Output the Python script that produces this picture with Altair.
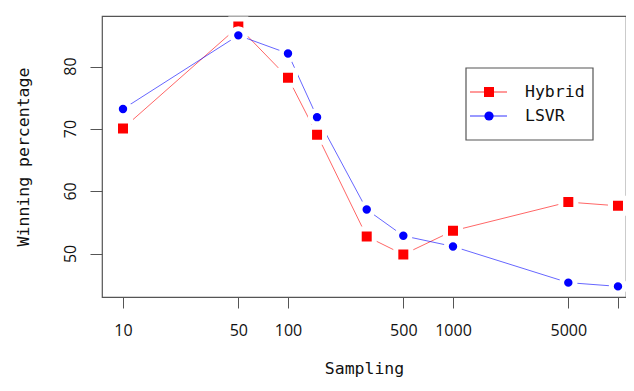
import altair as alt
import pandas as pd

sampling = [10, 50, 100, 150, 300, 500, 1000, 5000, 10000]
hybrid = [70.1, 86.4, 78.2, 69.1, 52.8, 49.9, 53.7, 58.3, 57.7]
lsvr = [73.2, 85.0, 82.1, 71.9, 57.1, 52.9, 51.2, 45.4, 44.8]
series_names = ["Hybrid", "LSVR"]
series_colors = ["#ff0000", "#0000ff"]
x_ticks = [10, 50, 100, 500, 1000, 5000, 10000]
y_ticks = [50, 60, 70, 80]

rows = []
for s, h, l in zip(sampling, hybrid, lsvr):
    rows.append({"Sampling": s, "value": h, "series": "Hybrid"})
    rows.append({"Sampling": s, "value": l, "series": "LSVR"})
df = pd.DataFrame(rows)
ytick_df = pd.DataFrame({"value": y_ticks, "label": [str(v) for v in y_ticks]})

MONO = "DejaVu Sans Mono"
SANS = "Open Sans"
FRAME = "#555"

x_scale = alt.Scale(type="log", domain=[7.46, 11183], nice=False, zero=False)
y_scale = alt.Scale(domain=[43.1, 88.1], nice=False, zero=False)

x = alt.X(
    "Sampling:Q", scale=x_scale,
    axis=alt.Axis(
        title="Sampling", values=x_ticks, grid=False, domain=False,
        tickSize=11, tickColor=FRAME, tickWidth=1, labelPadding=14,
        labelExpr="datum.value >= 10000 ? '' : format(datum.value, 'd')",
        labelFont=SANS, labelFontSize=16, labelColor="#111", labelOverlap=False,
        labelFlush=False, titleFont=MONO, titleFontSize=16.5, titleFontWeight="normal",
        titleColor="#111", titlePadding=22,
    ),
)
y_axis = alt.Axis(
    title="Winning percentage", values=y_ticks, grid=False, domain=False,
    tickSize=12, tickColor=FRAME, tickWidth=1, labels=False,
    titleFont=MONO, titleFontSize=16.5, titleFontWeight="normal",
    titleColor="#111", titlePadding=58,
)
y = alt.Y("value:Q", scale=y_scale, axis=y_axis)
color_scale = alt.Scale(domain=series_names, range=series_colors)

base = alt.Chart(df)

lines = base.mark_line(strokeWidth=1, opacity=0.6).encode(
    x=x, y=y,
    color=alt.Color("series:N", scale=color_scale, legend=None),
    detail="series:N",
)

sq_points = base.transform_filter(alt.datum.series == "Hybrid").mark_square(
    opacity=1, size=225, stroke="white", strokeWidth=5, strokeOpacity=1
).encode(x=x, y=y, fill=alt.Fill("series:N", scale=color_scale, legend=None))

ci_points = base.transform_filter(alt.datum.series == "LSVR").mark_circle(
    opacity=1, size=180, stroke="white", strokeWidth=5, strokeOpacity=1
).encode(x=x, y=y, fill=alt.Fill("series:N", scale=color_scale, legend=None))

# rotated y tick labels (R style)
ylabels = alt.Chart(ytick_df).mark_text(
    angle=270, align="center", baseline="middle", font=SANS, fontSize=16, color="#111"
).encode(
    y=alt.Y("value:Q", scale=y_scale, axis=y_axis),
    x=alt.value(-31),
    text="label:N",
)

# legend box, drawn as a guide inside the plot
one = pd.DataFrame({"k": [0]})
leg_box = alt.Chart(one).mark_rect(fill="white", stroke=FRAME, strokeWidth=1.2).encode(
    x=alt.value(364), x2=alt.value(491), y=alt.value(52), y2=alt.value(124)
)
leg_layers = [leg_box]
for i, (name, col) in enumerate(zip(series_names, series_colors)):
    entry = pd.DataFrame({"series": [name]})
    yy = 76 + 24 * i
    leg_layers.append(alt.Chart(entry).mark_rule(color=col, strokeWidth=1, opacity=0.8).encode(
        x=alt.value(368), x2=alt.value(405), y=alt.value(yy)))
    shape_mark = (alt.Chart(entry).mark_square(size=100, color=col, opacity=1) if i == 0
                  else alt.Chart(entry).mark_circle(size=85, color=col, opacity=1))
    leg_layers.append(shape_mark.encode(x=alt.value(387), y=alt.value(yy)))
    leg_layers.append(alt.Chart(entry).mark_text(
        align="left", baseline="middle", font=MONO, fontSize=16.5, color="#111"
    ).encode(x=alt.value(423), y=alt.value(yy), text="series:N"))

chart = alt.layer(lines, sq_points, ci_points, ylabels, *leg_layers).properties(
    width=524, height=281,
    autosize=alt.AutoSizeParams(type="none"),
    padding={"left": 94, "top": 8, "right": 0, "bottom": 95},
).configure(background="white").configure_view(stroke=FRAME, strokeWidth=1.2)

chart.save("out.html", embed_options={"renderer": "svg", "actions": False})
